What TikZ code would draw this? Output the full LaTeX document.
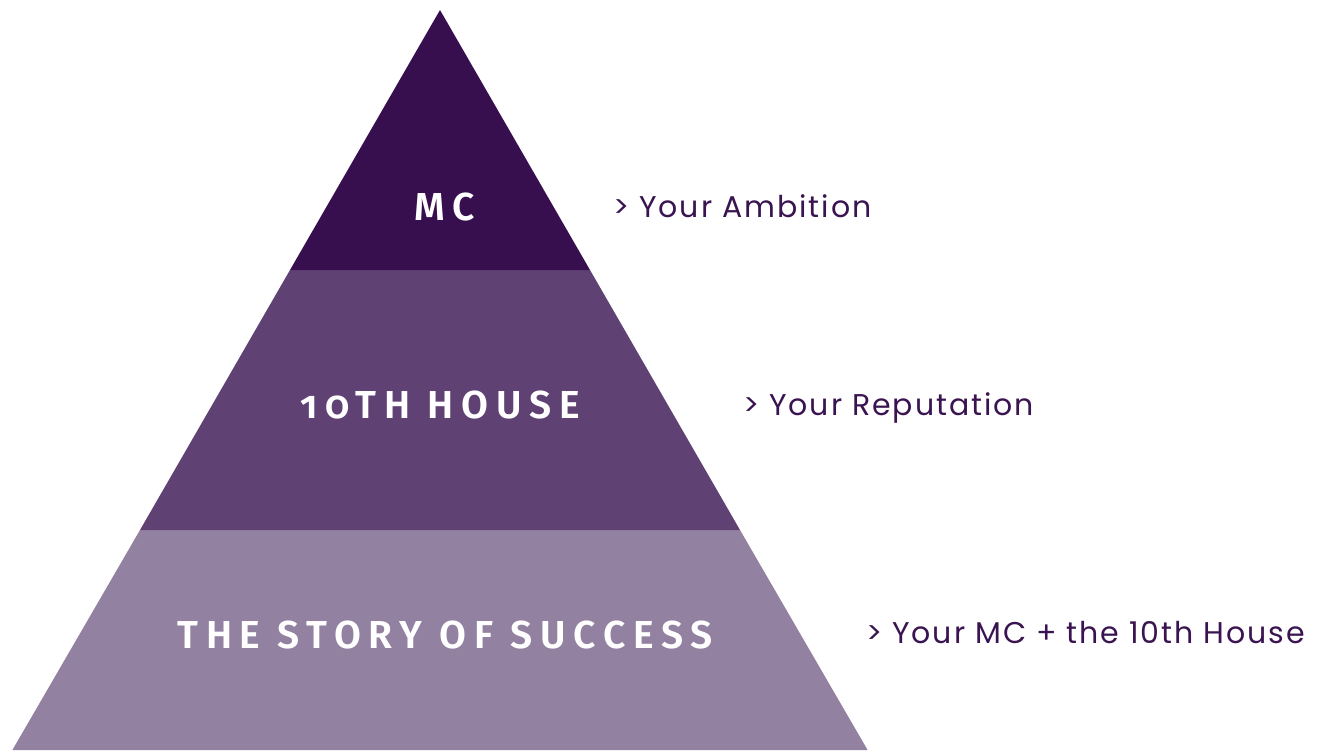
\documentclass[tikz,border=0pt]{standalone}
\usepackage{fontspec}
\setmainfont{Poppins}
\newfontfamily\notefont[LetterSpace=6.5]{Poppins}
\newfontfamily\titlefont[Numbers=OldStyle,LetterSpace=20]{Fira Sans SemiBold}
\begin{document}
\begin{tikzpicture}[x=1pt,y=-1pt,
  title/.style={text=white,font=\titlefont\fontsize{39}{39}\selectfont,anchor=base,inner sep=0pt},
  note/.style={text=notecol,font=\notefont\fontsize{30}{30}\selectfont,anchor=base west,inner sep=0pt}]
\definecolor{topcol}{HTML}{370F4F}
\definecolor{midcol}{HTML}{5F4174}
\definecolor{botcol}{HTML}{9381A2}
\definecolor{notecol}{HTML}{3A1450}
\fill[white] (0,0) rectangle (1323,750);
\useasboundingbox (0,0) rectangle (1323,750);
\coordinate (apex) at (440,10);
\fill[botcol] (140,530) -- (740,530) -- (867.6,750) -- (12.4,750) -- cycle;
\fill[midcol] (290,270) -- (590,270) -- (740,530) -- (140,530) -- cycle;
\fill[topcol] (apex) -- (590,270) -- (290,270) -- cycle;
\node[title] (mc) at (445,220.5) {MC};
\node[title] (house) at (440,418.5) {10TH HOUSE};
\node[title] (story) at (445,648) {THE STORY OF SUCCESS};
\node[note] (amb) at (613,217) {> Your Ambition};
\node[note] (rep) at (743,415) {> Your Reputation};
\node[note] (both) at (866,643) {> Your MC + the 10th House};
\end{tikzpicture}
\end{document}
